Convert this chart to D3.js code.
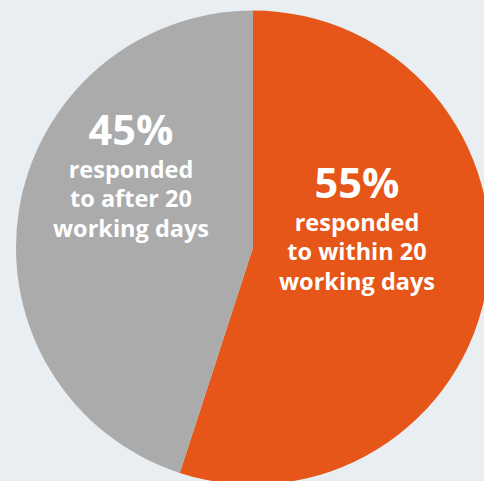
<!DOCTYPE html>
<html>
<head>
<meta charset="utf-8">
<script src="https://cdn.jsdelivr.net/npm/d3@7"></script>
<style>
  html, body { margin: 0; padding: 0; background: #e8eef1; }
  svg { display: block; }
  text { font-family: "Open Sans", "DejaVu Sans", sans-serif; font-weight: 700; fill: #ffffff; }
</style>
</head>
<body>
<svg id="chart" width="484" height="481"></svg>
<script>
// Response times, share of requests
const categories = ["within", "after"];
const values = [55, 45];
const colors = ["#e55618", "#ababab"];
const labelLines = [
  ["responded", "to within 20", "working days"],
  ["responded", "to after 20", "working days"]
];

const width = 484, height = 481;
const cx = 253, cy = 247.5, radius = 237;

const svg = d3.select("#chart");
const g = svg.append("g").attr("transform", `translate(${cx},${cy})`);

const pie = d3.pie().sort(null).value(d => d)(values);
const arc = d3.arc().innerRadius(0).outerRadius(radius);

g.selectAll("path.slice")
  .data(pie)
  .join("path")
  .attr("class", "slice")
  .attr("d", arc)
  .attr("fill", (d, i) => colors[i]);

// Label anchors (percentage baseline) for each slice, relative to the centre
const labelPos = [
  { x: 104, y: -50 },
  { x: -122, y: -103 }
];

pie.forEach((d, i) => {
  const p = labelPos[i];
  const t = g.append("text")
    .attr("text-anchor", "middle")
    .attr("transform", `translate(${p.x},${p.y})`);
  t.append("tspan")
    .attr("x", 0).attr("y", 0)
    .style("font-size", "41.5px")
    .text(d3.format(".0f")(values[i]) + "%");
  labelLines[i].forEach((line, j) => {
    t.append("tspan")
      .attr("x", 0).attr("y", 33 + j * 29.5)
      .style("font-size", "23.5px")
      .text(line);
  });
});
</script>
</body>
</html>
